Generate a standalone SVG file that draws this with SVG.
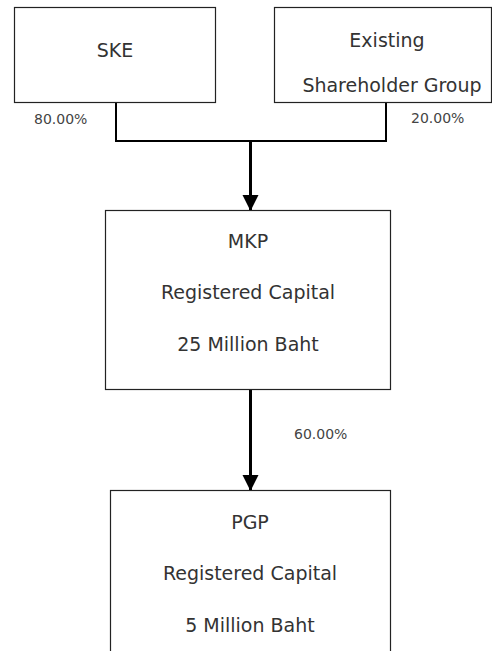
<svg xmlns="http://www.w3.org/2000/svg" width="492" height="651" viewBox="0 0 492 651">
<style>
.box{fill:#fff;stroke:#222;stroke-width:1.2}
.t{font-family:"DejaVu Sans",sans-serif;font-size:19px;fill:#333;text-anchor:middle}
.p{font-family:"DejaVu Sans",sans-serif;font-size:14px;fill:#444}
.c{fill:none;stroke:#000;stroke-width:2}
.a{fill:none;stroke:#000;stroke-width:3}
</style>
<defs>
<marker id="ah" markerWidth="16" markerHeight="17" refX="15" refY="8" orient="auto" markerUnits="userSpaceOnUse" viewBox="0 0 16 17">
<path d="M0,0 L16,8 L0,16 Z" fill="#000"/>
</marker>
</defs>
<rect width="492" height="651" fill="#fff"/>
<g id="connectors">
<path class="c" d="M116,102 V141 H386 V102"/>
<line class="a" x1="250.5" y1="141" x2="250.5" y2="210" marker-end="url(#ah)"/>
<line class="a" x1="250.5" y1="389" x2="250.5" y2="490" marker-end="url(#ah)"/>
<text class="p" x="34" y="124">80.00%</text>
<text class="p" x="411" y="123">20.00%</text>
<text class="p" x="294" y="439">60.00%</text>
</g>
<g id="ske">
<rect class="box" x="14.5" y="7.5" width="201" height="95"/>
<text class="t" x="115" y="57">SKE</text>
</g>
<g id="existing">
<rect class="box" x="274.5" y="7.5" width="217" height="95"/>
<text class="t" x="387" y="47">Existing</text>
<text class="t" x="392" y="92">Shareholder Group</text>
</g>
<g id="mkp">
<rect class="box" x="105.5" y="210.5" width="285" height="179"/>
<text class="t" x="248" y="248">MKP</text>
<text class="t" x="248" y="299">Registered Capital</text>
<text class="t" x="248" y="351">25 Million Baht</text>
</g>
<g id="pgp">
<rect class="box" x="110.5" y="490.5" width="280" height="170"/>
<text class="t" x="250" y="529">PGP</text>
<text class="t" x="250" y="580">Registered Capital</text>
<text class="t" x="250" y="632">5 Million Baht</text>
</g>
</svg>
